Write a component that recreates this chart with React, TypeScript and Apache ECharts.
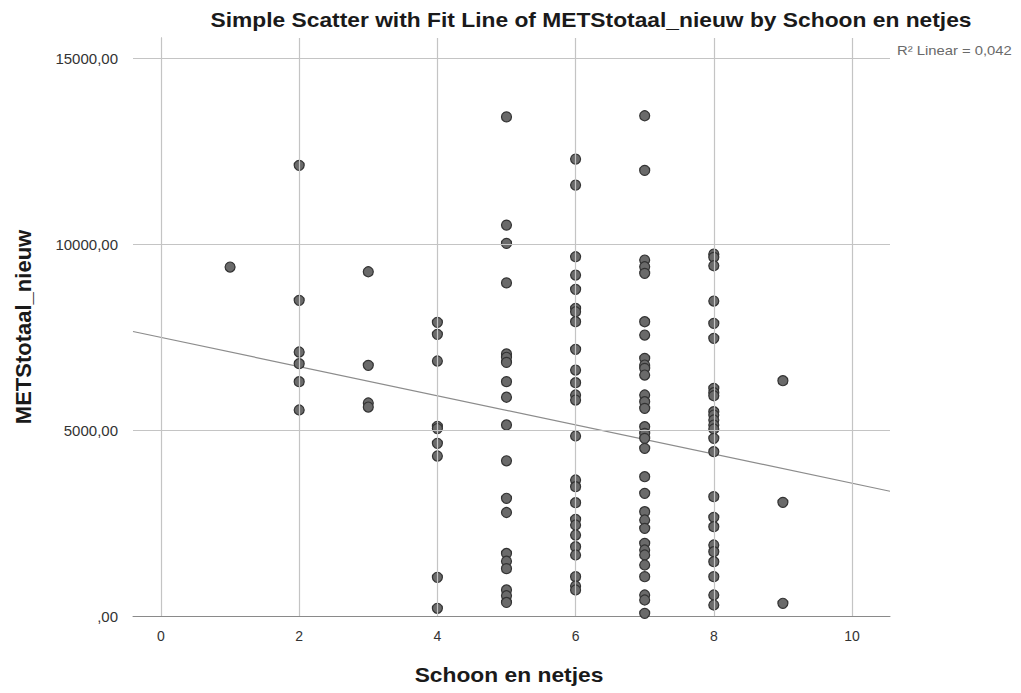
import React, { useEffect, useRef } from "react";
import * as echarts from "echarts";

// Observed METStotaal_nieuw values, grouped by "Schoon en netjes" score
const score1 = [9382];
const score2 = [12116, 8487, 7097, 6783, 6299, 5538];
const score3 = [9256, 6739, 5726, 5618];
const score4 = [7895, 7572, 6855, 5100, 5040, 4642, 4301, 1040, 207];
const score5 = [13418, 10509, 10018, 8955, 7045, 6955, 6818, 6300, 5882, 5136, 4173, 3164, 2782, 1682, 1473, 1273, 700, 545, 364];
const score6 = [12285, 11586, 9659, 9167, 8782, 8271, 8180, 7912, 7169, 6613, 6272, 5941, 5806, 4839, 3656, 3476, 3046, 2599, 2446, 2177, 1863, 1640, 1057, 806, 699];
const score7 = [13450, 11980, 9570, 9390, 9212, 7912, 7554, 6927, 6747, 6659, 6478, 5941, 5761, 5583, 5089, 4911, 4777, 4508, 3745, 3298, 2804, 2581, 2357, 1954, 1774, 1640, 1371, 1057, 565, 430, 72];
const score8 = [9731, 9642, 9417, 8468, 7867, 7465, 6121, 6003, 5922, 5493, 5403, 5269, 5134, 5027, 4777, 4417, 3208, 2653, 2401, 1909, 1729, 1460, 1057, 565, 296];
const score9 = [6326, 3056, 341];

const scoreGroups: [number, number[]][] = [
  [1, score1], [2, score2], [3, score3], [4, score4], [5, score5],
  [6, score6], [7, score7], [8, score8], [9, score9],
];

// Fit line
const fitIntercept = 7490;
const fitSlope = -392;
const r2Text = "R² Linear = 0,042";

// Axes
const xMin = -0.405;
const xMax = 10.55;
const xTicks = [0, 2, 4, 6, 8, 10];
const yMin = 0;
const yMax = 15540;
const yTicks = [0, 5000, 10000, 15000];

const titleText = "Simple Scatter with Fit Line of METStotaal_nieuw by Schoon en netjes";
const xName = "Schoon en netjes";
const yName = "METStotaal_nieuw";

const fmtY = (v: number) => {
  if (v === 0) return ",00";
  return String(Math.round(v)) + ",00";
};

export default function App() {
  const ref = useRef<HTMLDivElement>(null);
  useEffect(() => {
    document.body.style.margin = "0";
    if (!ref.current) return;
    const chart = echarts.init(ref.current, undefined, { renderer: "svg" });
    const points: number[][] = [];
    scoreGroups.forEach(([x, ys]) => ys.forEach((y) => points.push([x, y])));
    const fitData = [
      [xMin, fitIntercept + fitSlope * xMin],
      [xMax, fitIntercept + fitSlope * xMax],
    ];
    const gridColor = "#c4c4c4";
    const font = "'Liberation Sans', Arial, sans-serif";
    chart.setOption({
      animation: false,
      backgroundColor: "#ffffff",
      grid: { left: 133, right: 131, top: 38, bottom: 77 },
      xAxis: {
        type: "value",
        min: xMin,
        max: xMax,
        axisLine: { show: true, onZero: false, lineStyle: { color: "#8a8a8a", width: 1 } },
        axisTick: { show: false },
        splitLine: { show: false },
        axisLabel: {
          customValues: xTicks,
          margin: 13,
          fontFamily: font,
          fontSize: 14,
          color: "#333333",
          formatter: (v: number) => String(v),
        },
      },
      yAxis: {
        type: "value",
        min: yMin,
        max: yMax,
        name: yName,
        nameLocation: "middle",
        nameGap: 99,
        nameRotate: 90,
        nameTextStyle: { fontFamily: font, fontSize: 22, fontWeight: "bold", color: "#1a1a1a" },
        axisLine: { show: true, lineStyle: { color: "#8a8a8a", width: 1 } },
        axisTick: { show: false },
        splitLine: { show: false },
        axisLabel: {
          customValues: yTicks,
          margin: 15,
          fontFamily: font,
          fontSize: 15,
          color: "#333333",
          formatter: fmtY,
        },
      },
      graphic: [
        {
          type: "text",
          x: 591,
          y: 20,
          scaleX: 1.14,
          style: {
            text: titleText,
            x: 0,
            y: 0,
            textAlign: "center",
            textVerticalAlign: "middle",
            fontFamily: font,
            fontSize: 20,
            fontWeight: "bold",
            fill: "#1a1a1a",
          },
        },
        {
          type: "text",
          x: 509,
          y: 675,
          scaleX: 1.14,
          style: {
            text: xName,
            x: 0,
            y: 0,
            textAlign: "center",
            textVerticalAlign: "middle",
            fontFamily: font,
            fontSize: 20,
            fontWeight: "bold",
            fill: "#1a1a1a",
          },
        },
        {
          type: "text",
          x: 897,
          y: 50,
          scaleX: 1.14,
          style: {
            text: r2Text,
            x: 0,
            y: 0,
            textAlign: "left",
            textVerticalAlign: "middle",
            fontFamily: font,
            fontSize: 13,
            fill: "#6a6a6a",
          },
        },
      ],
      series: [
        {
          type: "line",
          name: "grid",
          data: [],
          silent: true,
          markLine: {
            silent: true,
            symbol: "none",
            label: { show: false },
            lineStyle: { color: gridColor, type: "solid", width: 1.2 },
            data: [
              ...xTicks.map((v) => ({ xAxis: v })),
              ...yTicks.filter((v) => v > 0).map((v) => ({ yAxis: v })),
            ],
          },
        },
        {
          type: "line",
          name: "fit",
          data: fitData,
          showSymbol: false,
          symbol: "none",
          silent: true,
          lineStyle: { color: "#8c8c8c", width: 1.2 },
          z: 3,
        },
        {
          type: "scatter",
          name: "points",
          data: points,
          symbol: "circle",
          symbolSize: 10,
          itemStyle: { color: "#6a6a6a", borderColor: "#333333", borderWidth: 1.2, opacity: 1 },
          z: 4,
        },
      ],
    });
    return () => chart.dispose();
  }, []);
  return <div ref={ref} style={{ width: 1021, height: 693 }} />;
}
